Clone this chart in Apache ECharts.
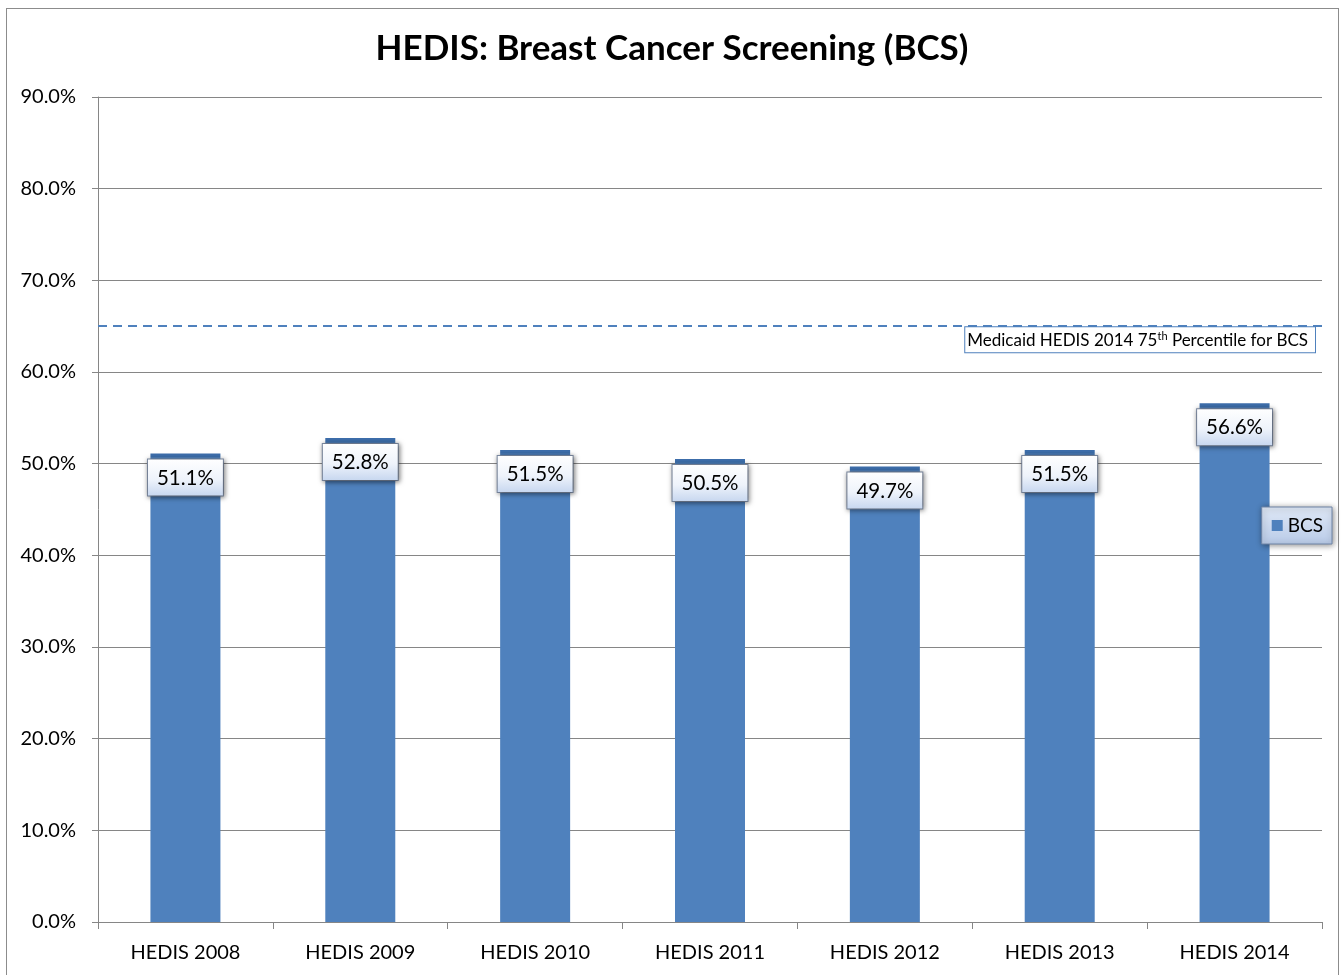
<!DOCTYPE html>
<html>
<head>
<meta charset="utf-8">
<script src="https://cdn.jsdelivr.net/npm/echarts@6/dist/echarts.min.js"></script>
<style>
  html, body { margin: 0; padding: 0; background: #fff; }
  .frame {
    position: absolute; left: 6px; top: 8px;
    width: 1333px; height: 980px;
    border: 1px solid #8c8c8c; box-sizing: border-box;
  }
  #main { position: absolute; left: 0; top: 0; width: 1344px; height: 975px; }
</style>
</head>
<body>
<div class="frame"></div>
<div id="main"></div>
<script>
// 数据
var categories = ["HEDIS 2008", "HEDIS 2009", "HEDIS 2010", "HEDIS 2011", "HEDIS 2012", "HEDIS 2013", "HEDIS 2014"];
var bcsValues = [51.1, 52.8, 51.5, 50.5, 49.7, 51.5, 56.6];
var benchmark = [65];
var yTicks = [0, 10, 20, 30, 40, 50, 60, 70, 80, 90];

var myChart = echarts.init(document.getElementById("main"));
var font = "Lato, 'Open Sans', sans-serif";

var labelBg = new echarts.graphic.LinearGradient(0, 0, 0, 1, [
  { offset: 0, color: "#ffffff" },
  { offset: 0.55, color: "#eef3fb" },
  { offset: 1, color: "#c6d6ef" }
]);

var option = {
  animation: false,
  title: {
    text: "HEDIS: Breast Cancer Screening (BCS)",
    left: "center",
    top: 26,
    textStyle: { fontFamily: font, fontSize: 35, fontWeight: "bold", color: "#000" }
  },
  legend: {
    data: ["BCS"],
    right: 12,
    top: 507,
    orient: "vertical",
    icon: "rect",
    itemWidth: 11,
    itemHeight: 11,
    padding: [9, 9, 9, 10],
    itemGap: 4,
    textStyle: { fontFamily: font, fontSize: 19, color: "#000" },
    backgroundColor: new echarts.graphic.LinearGradient(0, 0, 0, 1, [
      { offset: 0, color: "#dfe8f6" },
      { offset: 1, color: "#b9cbe8" }
    ]),
    borderColor: "#6f84a6",
    borderWidth: 1,
    shadowColor: "rgba(0,0,0,0.45)",
    shadowBlur: 6,
    shadowOffsetX: 1,
    shadowOffsetY: 1
  },
  grid: { left: 98, right: 22, top: 97, bottom: 53 },
  xAxis: {
    type: "category",
    data: categories,
    axisLine: { lineStyle: { color: "#868686", width: 1 } },
    axisTick: { show: true, length: 7, lineStyle: { color: "#868686" } },
    axisLabel: { fontFamily: font, fontSize: 20, color: "#000", margin: 21 }
  },
  yAxis: {
    type: "value",
    min: yTicks[0],
    max: yTicks[yTicks.length - 1],
    interval: 10,
    axisLine: { show: true, lineStyle: { color: "#868686" } },
    axisTick: { show: true, length: 6, lineStyle: { color: "#868686" } },
    splitLine: { lineStyle: { color: "#868686", width: 1 } },
    axisLabel: {
      fontFamily: font, fontSize: 20, color: "#000", margin: 22,
      formatter: function (v) { return v.toFixed(1) + "%"; }
    }
  },
  series: [
    {
      name: "BCS",
      type: "bar",
      data: bcsValues,
      barWidth: 70,
      itemStyle: {
        color: new echarts.graphic.LinearGradient(0, 0, 0, 1, [
          { offset: 0, color: "#3d6eab" },
          { offset: 0.007, color: "#3d6eab" },
          { offset: 0.008, color: "#4f81bd" },
          { offset: 1, color: "#4f81bd" }
        ])
      },
      label: {
        show: true,
        position: "insideTop",
        distance: 6,
        formatter: function (p) { return p.value.toFixed(1) + "%"; },
        fontFamily: font,
        fontSize: 20.5,
        color: "#000",
        padding: [8, 9, 7, 9],
        backgroundColor: labelBg,
        borderColor: "#7d8ba3",
        borderWidth: 1,
        shadowColor: "rgba(0,0,0,0.5)",
        shadowBlur: 5,
        shadowOffsetX: 1,
        shadowOffsetY: 1
      },
      markLine: {
        symbol: "none",
        silent: true,
        lineStyle: { color: "#4f81bd", type: [9, 6], width: 2 },
        data: [{ yAxis: benchmark[0] }],
        label: {
          show: true,
          position: "insideEndBottom",
          distance: [7, 1],
          formatter: "{t|Medicaid HEDIS 2014 75}{s|th}{t| Percentile for BCS}",
          backgroundColor: "#fff",
          borderColor: "#4f81bd",
          borderWidth: 1,
          padding: [4, 7, 3, 2],
          rich: {
            t: { fontFamily: font, fontSize: 17, color: "#000", verticalAlign: "bottom" },
            s: { fontFamily: font, fontSize: 11, color: "#000", verticalAlign: "top", padding: [0, 0, 7, 0] }
          }
        }
      }
    }
  ]
};

option && myChart.setOption(option);
</script>
</body>
</html>
